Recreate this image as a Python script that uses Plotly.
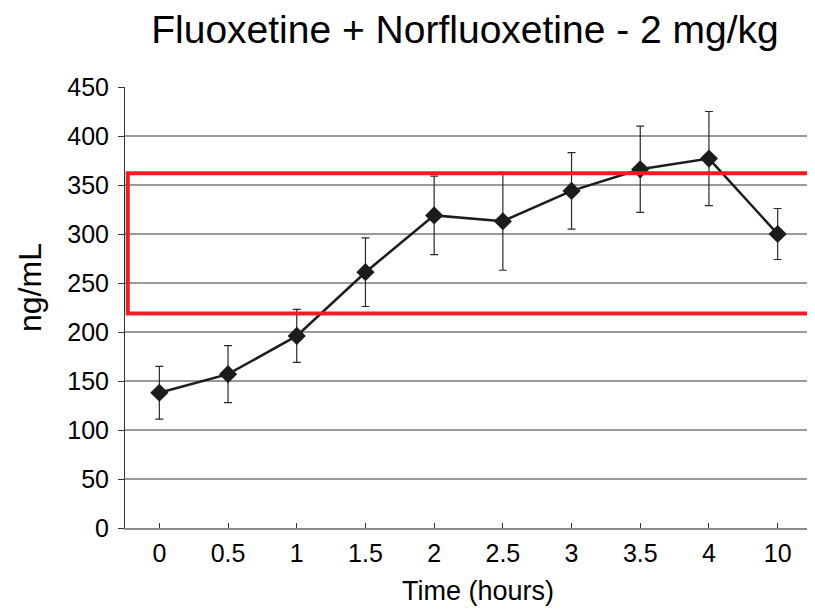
import plotly.graph_objects as go

time_labels = ["0", "0.5", "1", "1.5", "2", "2.5", "3", "3.5", "4", "10"]
conc_mean = [138, 157, 196, 261, 319, 313, 344, 366, 377, 300]
conc_err = [27, 29, 27, 35, 40, 50, 39, 44, 48, 26]
band_low = 219
band_high = 362
y_min, y_max = 0, 450

FONT = "Liberation Sans, Arial, sans-serif"

# page body has an 8px margin; work in figure coordinates
W, H = 807, 604
OFF = 8
L, R, T, B = 125 - OFF, 3, 87 - OFF, 612 - 528
PW = W - L - R
PH = H - T - B

fig = go.Figure()
fig.add_trace(go.Scatter(
    x=time_labels, y=conc_mean, mode="lines+markers",
    line=dict(color="#1c1c1c", width=2.5),
    marker=dict(symbol="diamond", size=14, color="#1c1c1c"),
    error_y=dict(type="data", array=conc_err, visible=True,
                 color="#2a2a2a", thickness=1.2, width=4),
    showlegend=False,
))

def yp(v):
    return (v - y_min) / (y_max - y_min)

fig.add_shape(type="rect", xref="paper", yref="paper",
              x0=0.004, x1=1.002, y0=yp(band_low), y1=yp(band_high),
              line=dict(color="#ee1c25", width=4), layer="above")

fig.update_layout(
    width=W, height=H,
    margin=dict(l=L, r=R, t=T, b=B),
    paper_bgcolor="white", plot_bgcolor="white",
    font=dict(family=FONT, color="black"),
    title=dict(text="Fluoxetine + Norfluoxetine - 2 mg/kg",
               font=dict(size=39, family=FONT, color="black"),
               x=(465 - OFF) / W, xanchor="center", xref="container",
               y=1 - 21.5 / H, yanchor="middle", yref="container"),
    xaxis=dict(type="category", range=[-0.5, 9.5],
               showline=True, linecolor="#8a8a8a", linewidth=2,
               ticks="inside", ticklen=5, tickcolor="#333", tickwidth=1,
               tickfont=dict(size=25, family=FONT, color="black"),
               ticklabelstandoff=2,
               showgrid=False, zeroline=False),
    yaxis=dict(range=[y_min, y_max], dtick=50,
               showline=True, linecolor="#333", linewidth=1,
               ticks="outside", ticklen=6, tickcolor="#333", tickwidth=1,
               tickfont=dict(size=25, family=FONT, color="black"),
               ticklabelstandoff=4,
               showgrid=True, gridcolor="#9a9a9a", gridwidth=1.5,
               zeroline=False),
    annotations=[
        dict(text="Time (hours)", xref="paper", yref="paper",
             x=(478 - 125) / PW, y=-(591 - 528) / PH, xanchor="center", yanchor="middle",
             showarrow=False, font=dict(size=27, family=FONT, color="black")),
        dict(text="ng/mL", xref="paper", yref="paper",
             x=(30 - 125) / PW, y=(528 - 288) / PH, xanchor="center", yanchor="middle",
             textangle=-90, showarrow=False,
             font=dict(size=32, family=FONT, color="black")),
    ],
)

fig.write_html("out.html")
